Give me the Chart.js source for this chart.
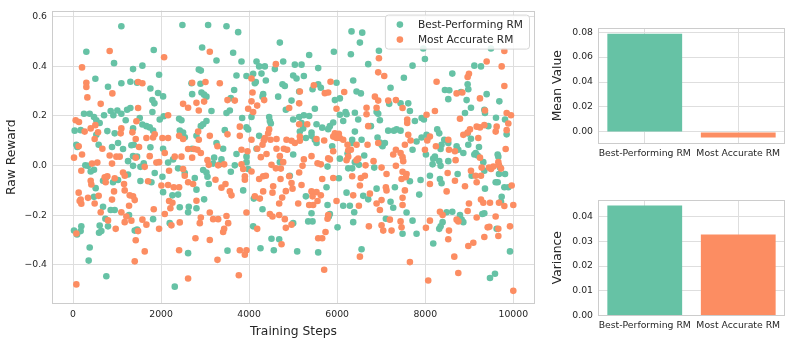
<!DOCTYPE html>
<html>
<head>
<meta charset="utf-8">
<script src="https://cdn.jsdelivr.net/npm/chart.js@4.4.1/dist/chart.umd.min.js"></script>
<style>
  body { margin: 0; background: #fff; }
  #wrap { position: relative; width: 789px; height: 344px; }
  canvas { position: absolute; }
</style>
</head>
<body>
<div id="wrap">
  <canvas id="scatterChart" width="540" height="344" style="left:0;top:0"></canvas>
  <canvas id="meanChart" width="249" height="172" style="left:540px;top:0"></canvas>
  <canvas id="varChart" width="249" height="172" style="left:540px;top:172px"></canvas>
</div>
<script>
// values: [training step, raw reward]
var bestPerformingPoints = [
  [1098,0.562],[303,0.459],[932,0.413],[508,0.35],[795,0.318],[1098,0.332],[250,0.209],[379,0.209],[477,0.196],[530,0.183],
  [606,0.172],[705,0.203],[856,0.22],[1007,0.222],[917,0.203],[1098,0.209],[38,0.141],[174,0.143],[780,0.139],[947,0.13],
  [530,0.124],[1023,0.091],[1136,0.067],[76,0.084],[98,0.075],[583,0.084],[886,0.075],[280,0.001],[341,-0.001],[477,-0.017],
  [402,-0.024],[682,-0.061],[757,-0.047],[909,-0.067],[1023,-0.058],[515,-0.091],[477,-0.126],[682,-0.166],[856,-0.179],[947,-0.179],
  [735,-0.214],[795,-0.245],[606,-0.242],[644,-0.264],[591,-0.271],[23,-0.262],[189,-0.245],[174,-0.264],[91,-0.278],[379,-0.33],
  [356,-0.383],[757,-0.446],
  [2485,0.567],[1834,0.466],[1364,0.389],[1576,0.403],[1303,0.338],[1455,0.334],[1955,0.366],[1758,0.311],[1932,0.293],[2046,0.279],
  [1803,0.264],[1849,0.251],[1228,0.225],[1303,0.232],[1803,0.216],[1197,0.183],[1516,0.192],[2061,0.199],[2410,0.189],[2463,0.183],
  [1970,0.186],[1743,0.154],[1819,0.141],[1364,0.15],[1576,0.166],[1667,0.159],[2425,0.141],[2500,0.133],[1326,0.082],[1379,0.084],
  [2046,0.068],[1758,0.074],[1364,0.038],[1455,0.036],[1606,0.009],[1250,0.018],[1531,-0.005],[1364,-0.001],[2273,0.025],[2160,0.012],
  [2387,-0.011],[2538,-0.03],[1856,-0.03],[2031,-0.045],[1250,-0.036],[1531,-0.062],[1781,-0.067],[2046,-0.107],[2258,-0.12],[2387,-0.117],
  [2425,-0.168],[2614,-0.188],[1273,-0.199],[1819,-0.216],[2197,-0.232],[1402,-0.262],[1455,-0.258],[2614,-0.353],[2311,-0.488],
  [3069,0.567],[3486,0.562],[3751,0.538],[2933,0.476],[3637,0.455],[3259,0.424],[3827,0.42],[2857,0.387],[2903,0.383],[3713,0.363],
  [3940,0.361],[4092,0.37],[2691,0.332],[2895,0.33],[2706,0.288],[2918,0.295],[2978,0.286],[3031,0.278],[3660,0.305],[3584,0.272],
  [3145,0.22],[3486,0.212],[3562,0.222],[3842,0.192],[4054,0.196],[3031,0.18],[2956,0.167],[2903,0.159],[3448,0.143],[3940,0.154],
  [3978,0.146],[2539,0.114],[2804,0.12],[3259,0.091],[3410,0.068],[2706,0.068],[3713,0.047],[3940,0.036],[3940,0.014],[3206,0.032],
  [3183,0.008],[3372,0.025],[3334,0.005],[2956,-0.018],[3031,-0.028],[3054,-0.045],[3584,-0.025],[3675,0.001],[3978,-0.014],[3084,-0.074],
  [2766,-0.05],[2804,-0.097],[3865,-0.1],[2978,-0.136],[2630,-0.166],[2804,-0.172],[4092,-0.245],[3509,-0.343],
  [4698,0.496],[5364,0.446],[4774,0.42],[4168,0.42],[4357,0.4],[4228,0.4],[5039,0.407],[5190,0.407],[5569,0.393],[4584,0.389],
  [4281,0.371],[4380,0.343],[4130,0.332],[4152,0.337],[5001,0.363],[5077,0.351],[5243,0.361],[4758,0.328],[4811,0.321],[5440,0.308],
  [5569,0.328],[5137,0.299],[4319,0.288],[4304,0.278],[4660,0.278],[4963,0.262],[4834,0.225],[5493,0.229],[4455,0.196],[4471,0.18],
  [4493,0.17],[5001,0.186],[5137,0.196],[5243,0.203],[5364,0.2],[5190,0.172],[5531,0.167],[5152,0.137],[5228,0.15],[5417,0.133],
  [5417,0.12],[5289,0.111],[5531,0.091],[4228,0.12],[4168,0.068],[5001,0.045],[4698,0.014],[4925,-0.041],[4107,-0.133],[5289,-0.124],
  [4304,-0.176],[5417,-0.192],[5342,-0.225],[5440,-0.225],[5001,-0.232],[4508,-0.295],[4683,-0.297],[4258,-0.333],[4561,-0.341],[5092,-0.346],
  [5569,-0.35],
  [6326,0.541],[6569,0.536],[6516,0.496],[5925,0.459],[6311,0.449],[6705,0.409],[6948,0.463],[5629,0.314],[5985,0.334],[6364,0.343],
  [6440,0.299],[6538,0.291],[5948,0.264],[6061,0.271],[6061,0.205],[6190,0.216],[6213,0.207],[6402,0.213],[6137,0.18],[6478,0.186],
  [6895,0.216],[6932,0.209],[6970,0.183],[5660,0.153],[5796,0.147],[5834,0.159],[5910,0.174],[6402,0.137],[6766,0.159],[6341,0.104],
  [6341,0.091],[6554,0.104],[6917,0.113],[7008,0.084],[6970,0.093],[5493,0.104],[5887,0.078],[6235,0.049],[6061,0.028],[6614,0.041],
  [6402,0.014],[6251,-0.011],[6341,-0.011],[6493,0.003],[6842,-0.008],[5781,-0.004],[6038,-0.051],[5758,-0.087],[6213,-0.109],[6591,-0.122],
  [6705,-0.136],[6895,-0.093],[6137,-0.162],[5781,-0.159],[6288,-0.162],[6387,-0.188],[5834,-0.195],[5811,-0.205],[6008,-0.249],[6364,-0.228],
  [6554,-0.337],
  [7955,0.472],[7993,0.43],[7712,0.403],[7515,0.354],[7212,0.314],[8447,0.305],[8546,0.304],[7182,0.249],[7440,0.251],[7614,0.251],
  [7652,0.22],[7765,0.18],[7917,0.192],[7970,0.186],[7159,0.141],[7288,0.141],[7349,0.146],[7440,0.141],[7031,0.078],[7084,0.091],
  [7803,0.097],[7917,0.113],[8030,0.124],[8273,0.146],[8318,0.13],[8371,0.084],[8349,0.067],[8432,0.104],[8523,0.091],[7712,0.064],
  [8016,0.045],[8182,0.028],[8220,0.036],[8318,0.018],[8167,0.005],[8349,-0.001],[8106,-0.041],[8334,-0.054],[8371,-0.071],[7652,-0.063],
  [7894,-0.058],[7311,-0.087],[7864,-0.117],[7212,-0.146],[7273,-0.17],[7576,-0.189],[7106,-0.214],[7712,-0.222],[8485,-0.188],[8394,-0.228],
  [8349,-0.245],[8318,-0.255],[7485,-0.275],[7803,-0.275],[8182,-0.314],
  [9493,0.472],[9115,0.403],[9266,0.4],[8615,0.371],[8963,0.328],[8978,0.308],[8812,0.297],[8524,0.268],[9395,0.288],[8940,0.264],
  [9683,0.259],[9039,0.233],[8903,0.212],[9342,0.225],[9357,0.212],[9607,0.193],[9812,0.186],[9433,0.159],[9849,0.126],[8963,0.13],
  [9039,0.108],[8978,0.084],[8713,0.078],[8751,0.064],[9145,0.051],[9115,0.045],[9190,0.041],[9221,0.075],[9319,0.014],[9645,0.045],
  [9660,0.036],[8865,0.051],[8524,0.018],[9342,-0.021],[9698,-0.008],[8736,-0.034],[9054,-0.041],[9675,-0.034],[9812,-0.034],[9600,-0.067],
  [9645,-0.067],[9797,-0.087],[9887,-0.087],[9357,-0.093],[9736,-0.126],[9721,-0.146],[9342,-0.192],[9297,-0.195],[8789,-0.199],[8827,-0.218],
  [8865,-0.228],[8615,-0.186],[9622,-0.255],[9925,-0.346],[9471,-0.453],[9584,-0.436]
];

var mostAccuratePoints = [
  [833,0.462],[205,0.396],[303,0.334],[303,0.317],[326,0.275],[894,0.291],[629,0.249],[61,0.183],[136,0.176],[265,0.137],
  [402,0.15],[508,0.163],[568,0.134],[492,0.107],[1098,0.15],[1083,0.13],[129,0.078],[667,0.068],[205,0.045],[23,0.032],
  [833,0.041],[985,0.036],[1061,0.036],[432,0.008],[553,0.012],[886,0.008],[189,-0.021],[1136,-0.028],[402,-0.061],[417,-0.076],
  [720,-0.047],[780,-0.043],[742,-0.067],[947,-0.051],[1159,-0.074],[932,-0.104],[1174,-0.1],[129,-0.109],[583,-0.122],[151,-0.143],
  [189,-0.154],[174,-0.137],[341,-0.13],[492,-0.153],[886,-0.137],[629,-0.188],[1098,-0.188],[795,-0.221],[1174,-0.228],[970,-0.255],
  [76,-0.274],[76,-0.479],
  [2069,0.437],[1478,0.337],[1576,0.332],[2500,0.249],[2614,0.233],[1478,0.232],[2160,0.203],[1440,0.179],[1349,0.134],[1425,0.107],
  [1667,0.111],[1856,0.126],[1819,0.113],[2031,0.111],[2160,0.111],[2410,0.12],[2500,0.107],[2614,0.067],[1500,0.075],[1743,0.038],
  [1955,0.014],[2084,0.051],[2311,0.036],[2463,0.036],[1425,0.032],[1629,-0.005],[1894,0.012],[1175,-0.041],[2182,-0.021],[2538,-0.041],
  [2500,-0.014],[1705,-0.063],[2008,-0.08],[2160,-0.078],[2288,-0.087],[2410,-0.087],[1288,-0.12],[1364,-0.124],[1402,-0.139],[2182,-0.143],
  [2258,-0.15],[2212,-0.172],[1273,-0.162],[1212,-0.205],[1326,-0.222],[1834,-0.176],[2084,-0.195],[1576,-0.218],[1667,-0.238],[2235,-0.241],
  [2425,-0.229],[1955,-0.255],[1478,-0.264],[1425,-0.301],[1629,-0.346],[1402,-0.386],[2410,-0.341],[2614,-0.455],
  [3107,0.459],[3009,0.337],[3334,0.332],[2706,0.334],[3509,0.264],[3675,0.262],[2978,0.258],[2804,0.253],[4054,0.259],[2857,0.222],
  [3978,0.229],[4092,0.216],[3789,0.157],[2842,0.137],[3509,0.126],[3789,0.12],[2857,0.104],[3107,0.12],[2751,0.067],[2827,0.064],
  [2903,0.051],[2706,0.032],[3281,0.078],[3827,0.064],[3963,0.058],[3054,0.022],[3433,0.005],[3297,0.001],[3827,0.005],[3865,-0.014],
  [3084,0.003],[2615,-0.067],[2728,-0.074],[3236,-0.057],[3463,-0.074],[3372,-0.089],[3562,-0.104],[3600,-0.12],[3903,-0.043],[3903,-0.057],
  [2804,-0.142],[3940,-0.189],[3107,-0.189],[3183,-0.216],[3297,-0.216],[3486,-0.203],[2903,-0.209],[2880,-0.232],[3524,-0.232],[3433,-0.255],
  [3410,-0.268],[2781,-0.293],[3107,-0.3],[3789,-0.341],[3940,-0.341],[3903,-0.359],[3281,-0.38],[3766,-0.442],
  [4607,0.409],[4054,0.351],[4077,0.295],[5470,0.324],[5152,0.299],[4342,0.264],[4183,0.242],[5137,0.251],[4910,0.232],[5137,0.167],
  [5319,0.167],[4455,0.146],[4433,0.13],[4357,0.111],[4334,0.101],[4486,0.104],[4622,0.107],[4849,0.104],[4963,0.1],[5152,0.117],
  [5152,0.1],[5039,0.091],[4304,0.084],[4054,0.104],[4183,0.068],[4789,0.068],[4864,0.064],[4622,0.068],[4395,0.047],[4266,0.034],
  [4698,0.038],[5417,0.038],[5243,0.025],[4774,0.014],[4508,0.003],[4607,-0.011],[4720,-0.012],[4054,-0.024],[5213,-0.001],[5137,-0.028],
  [4319,-0.043],[4380,-0.041],[4228,-0.054],[4713,-0.054],[4910,-0.043],[4963,-0.07],[5190,-0.078],[4546,-0.083],[4986,-0.093],[4319,-0.104],
  [4531,-0.109],[4834,-0.103],[4130,-0.124],[4243,-0.133],[4751,-0.129],[5417,-0.104],[5531,-0.107],[5440,-0.124],[5364,-0.159],[5455,-0.159],
  [5115,-0.153],[4683,-0.153],[4471,-0.195],[4531,-0.205],[4683,-0.199],[4811,-0.216],[4963,-0.238],[4834,-0.251],[4183,-0.255],[4736,-0.317],
  [5569,-0.293],
  [6948,0.433],[6932,0.376],[7069,0.361],[5849,0.338],[5720,0.292],[5796,0.295],[6160,0.297],[6857,0.278],[6932,0.262],[6667,0.233],
  [6895,0.233],[6667,0.207],[6705,0.159],[5985,0.229],[5948,0.13],[6038,0.128],[5910,0.117],[5985,0.111],[6061,0.111],[6137,0.104],
  [5531,0.107],[5705,0.101],[6235,0.084],[6311,0.064],[6251,0.061],[6690,0.084],[6932,0.091],[6440,0.084],[5910,0.058],[6251,0.036],
  [6478,0.028],[6440,0.022],[6213,0.022],[5796,0.029],[5834,0.025],[5554,0.009],[5629,0.005],[6644,0.001],[6826,0.018],[7008,-0.008],
  [5660,-0.054],[5910,-0.05],[6341,-0.043],[6538,-0.05],[6629,-0.041],[6516,-0.08],[6743,-0.113],[6364,-0.12],[5629,-0.12],[5554,-0.143],
  [5985,-0.143],[6493,-0.162],[6895,-0.153],[6970,-0.179],[5796,-0.199],[5781,-0.214],[6720,-0.245],[7046,-0.262],[5735,-0.268],[5660,-0.293],
  [6516,-0.367],[5705,-0.42],
  [8258,0.338],[7334,0.264],[7485,0.232],[7159,0.262],[7591,0.186],[7591,0.172],[8030,0.205],[8220,0.22],[8106,0.117],[8046,0.101],
  [7993,0.064],[8243,0.078],[7614,0.124],[7667,0.101],[7538,0.084],[7334,0.064],[7273,0.045],[7440,0.051],[7485,0.034],[7500,0.018],
  [7334,-0.001],[7121,-0.034],[7485,-0.025],[7576,-0.034],[7561,-0.047],[7462,-0.054],[8106,-0.074],[7106,-0.087],[7121,-0.1],[7538,-0.1],
  [7008,-0.139],[7485,-0.13],[7485,-0.159],[8334,-0.186],[8394,-0.199],[7197,-0.218],[7440,-0.225],[8106,-0.222],[8016,-0.251],[7008,-0.241],
  [7235,-0.262],[7462,-0.249],[8523,-0.297],[7652,-0.389],[8068,-0.463],
  [9797,0.462],[9395,0.42],[9736,0.4],[8993,0.37],[8963,0.357],[9797,0.321],[8713,0.291],[8842,0.295],[9243,0.271],[9357,0.222],
  [8789,0.189],[9850,0.212],[9948,0.203],[9168,0.157],[9243,0.154],[9342,0.163],[9622,0.157],[9600,0.137],[9887,0.17],[9850,0.143],
  [9016,0.146],[8865,0.124],[8963,0.133],[9205,0.111],[8524,0.104],[9827,0.067],[8539,0.064],[8675,0.058],[8690,0.022],[9243,0.032],
  [9281,-0.008],[9660,0.014],[9675,0.001],[9721,-0.012],[9547,-0.004],[9494,-0.014],[9448,-0.008],[9039,-0.021],[9266,-0.041],[9145,-0.041],
  [9168,-0.067],[8675,-0.061],[8509,-0.03],[8486,-0.104],[9963,-0.08],[8903,-0.083],[9266,-0.137],[9319,-0.15],[8993,-0.153],[9471,-0.15],
  [9675,-0.15],[9797,-0.163],[10000,-0.159],[8963,-0.183],[9168,-0.209],[8713,-0.218],[8751,-0.225],[9599,-0.205],[9418,-0.249],[9456,-0.247],
  [9660,-0.255],[9925,-0.245],[8539,-0.262],[8978,-0.324],[9092,-0.311],[9342,-0.288],[9660,-0.284],[8660,-0.367],[8751,-0.433],[10000,-0.505]
];

var seriesNames = ["Best-Performing RM", "Most Accurate RM"];
var seriesColors = ["#66c2a5", "#fc8d62"];
var stepTicks = [0, 2000, 4000, 6000, 8000, 10000];
var rewardTicks = [-0.4, -0.2, 0, 0.2, 0.4, 0.6];

var meanValues = [0.0787, -0.0045];
var meanTicks = [0, 0.02, 0.04, 0.06, 0.08];
var varianceValues = [0.0445, 0.0328];
var varianceTicks = [0, 0.01, 0.02, 0.03, 0.04];

var textColor = '#262626';
var gridColor = '#dedede';
var frameColor = '#cccccc';
var tickFont = { family: 'DejaVu Sans', size: 9.3 };
var titleFont = { family: 'DejaVu Sans', size: 12.3 };

// full box around each plot area, like the matplotlib spines
var framePlugin = {
  id: 'frame',
  afterDraw: function (chart) {
    var a = chart.chartArea, ctx = chart.ctx;
    ctx.save();
    ctx.strokeStyle = frameColor;
    ctx.lineWidth = 1;
    ctx.strokeRect(Math.round(a.left) + 0.5, Math.round(a.top) + 0.5,
                   Math.round(a.right - a.left) - 1, Math.round(a.bottom - a.top) - 1);
    ctx.restore();
  }
};

// legend box inside the top right of the scatter plot
var insideLegend = {
  id: 'insideLegend',
  afterDatasetsDraw: function (chart) {
    var ctx = chart.ctx, a = chart.chartArea;
    var sets = chart.data.datasets;
    ctx.save();
    ctx.font = '10.6px "DejaVu Sans"';
    var tw = 0;
    sets.forEach(function (d) { tw = Math.max(tw, ctx.measureText(d.label).width); });
    var w = 33 + tw + 6, h = 34;
    var right = a.right - 6, top = a.top + 4, left = right - w;
    ctx.beginPath();
    ctx.roundRect(left + 0.5, top + 0.5, w, h, 3);
    ctx.fillStyle = 'rgba(255,255,255,0.85)';
    ctx.fill();
    ctx.strokeStyle = '#d6d6d6';
    ctx.lineWidth = 1;
    ctx.stroke();
    sets.forEach(function (d, i) {
      var cy = top + 10 + i * 15;
      ctx.beginPath();
      ctx.arc(left + 15, cy, 3.3, 0, Math.PI * 2);
      ctx.fillStyle = d.backgroundColor;
      ctx.fill();
      ctx.fillStyle = textColor;
      ctx.textBaseline = 'middle';
      ctx.fillText(d.label, left + 33, cy + 0.5);
    });
    ctx.restore();
  }
};

function toXY(p) { return { x: p[0], y: p[1] }; }

var ctxS = document.getElementById("scatterChart").getContext('2d');
var scatterChart = new Chart(ctxS, {
  type: 'scatter',
  data: {
    datasets: [{
        label: seriesNames[0],
        data: bestPerformingPoints.map(toXY),
        backgroundColor: seriesColors[0],
        pointRadius: 3.3,
        borderWidth: 0,
        order: 2
      },
      {
        label: seriesNames[1],
        data: mostAccuratePoints.map(toXY),
        backgroundColor: seriesColors[1],
        pointRadius: 3.3,
        borderWidth: 0,
        order: 1
      }
    ]
  },
  options: {
    responsive: false,
    animation: false,
    layout: { padding: { top: 5, right: 5, left: 0, bottom: 0 } },
    plugins: { legend: { display: false }, tooltip: { enabled: false } },
    scales: {
      x: {
        type: 'linear',
        min: -477,
        max: 10493,
        afterBuildTicks: function (s) { s.ticks = stepTicks.map(function (v) { return { value: v }; }); },
        afterFit: function (s) { s.height = 40; },
        grid: { color: gridColor, drawTicks: false },
        border: { display: false },
        ticks: { padding: 5, color: textColor, font: tickFont, maxRotation: 0,
                 callback: function (v) { return String(v); } },
        title: { display: true, text: 'Training Steps', color: textColor, font: titleFont,
                 padding: { top: 0, bottom: 5 } }
      },
      y: {
        min: -0.558,
        max: 0.625,
        afterBuildTicks: function (s) { s.ticks = rewardTicks.map(function (v) { return { value: v }; }); },
        afterFit: function (s) { s.width = 52; },
        grid: { color: gridColor, drawTicks: false },
        border: { display: false },
        ticks: { padding: 5, color: textColor, font: tickFont,
                 callback: function (v) { return (v < -1e-9 ? '\u2212' : '') + Math.abs(v).toFixed(1); } },
        title: { display: true, text: 'Raw Reward', color: textColor, font: titleFont,
                 padding: { top: 4, bottom: 0 } }
      }
    }
  },
  plugins: [framePlugin, insideLegend]
});

function barOptions(yMin, yMax, yTicks, yTitle) {
  return {
    responsive: false,
    animation: false,
    layout: { padding: { top: 28, right: 4, left: 0, bottom: 0 } },
    plugins: { legend: { display: false }, tooltip: { enabled: false } },
    scales: {
      x: {
        offset: true,
        afterFit: function (s) { s.height = 28.5; },
        grid: { color: gridColor, drawTicks: false, offset: false },
        border: { display: false },
        ticks: { padding: 5, color: textColor, font: tickFont, maxRotation: 0, autoSkip: false }
      },
      y: {
        min: yMin,
        max: yMax,
        afterBuildTicks: function (s) { s.ticks = yTicks.map(function (v) { return { value: v }; }); },
        afterFit: function (s) { s.width = 58; },
        grid: { color: gridColor, drawTicks: false },
        border: { display: false },
        ticks: { padding: 5, color: textColor, font: tickFont,
                 callback: function (v) { return v.toFixed(2); } },
        title: { display: true, text: yTitle, color: textColor, font: titleFont,
                 padding: { top: 10, bottom: 0 } }
      }
    }
  };
}

var meanChart = new Chart(document.getElementById("meanChart").getContext('2d'), {
  type: 'bar',
  data: {
    labels: seriesNames,
    datasets: [{ data: meanValues, backgroundColor: seriesColors, barPercentage: 0.8, categoryPercentage: 1 }]
  },
  options: barOptions(-0.0093, 0.0833, meanTicks, 'Mean Value'),
  plugins: [framePlugin]
});

var varChart = new Chart(document.getElementById("varChart").getContext('2d'), {
  type: 'bar',
  data: {
    labels: seriesNames,
    datasets: [{ data: varianceValues, backgroundColor: seriesColors, barPercentage: 0.8, categoryPercentage: 1 }]
  },
  options: barOptions(0, 0.0467, varianceTicks, 'Variance'),
  plugins: [framePlugin]
});
</script>
</body>
</html>
